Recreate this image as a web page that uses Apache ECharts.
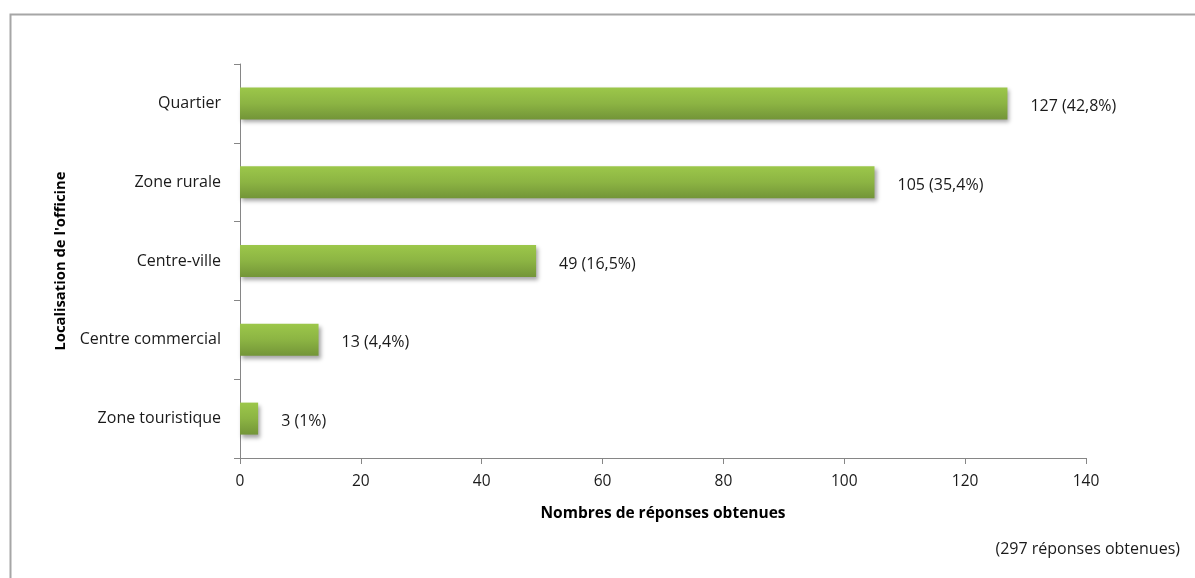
<!DOCTYPE html>
<html>
<head>
<meta charset="utf-8">
<script src="https://cdn.jsdelivr.net/npm/echarts@6/dist/echarts.min.js"></script>
<style>html,body{margin:0;padding:0;background:#fff;}#c{width:1195px;height:578px;}</style>
</head>
<body>
<div id="c"></div>
<script>
var categories = ['Quartier', 'Zone rurale', 'Centre-ville', 'Centre commercial', 'Zone touristique'];
var counts = [127, 105, 49, 13, 3];
var percents = ['42,8%', '35,4%', '16,5%', '4,4%', '1%'];
var xTicks = [0, 20, 40, 60, 80, 100, 120, 140];

var font = 'Open Sans';
var chart = echarts.init(document.getElementById('c'));
chart.setOption({
  backgroundColor: '#fff',
  animation: false,
  grid: { left: 240, right: 109, top: 64, bottom: 120 },
  xAxis: {
    type: 'value', min: xTicks[0], max: xTicks[xTicks.length - 1], interval: 20,
    name: 'Nombres de réponses obtenues', nameLocation: 'middle', nameGap: 48,
    nameTextStyle: { fontFamily: font, fontWeight: 'bold', fontSize: 15.5, color: '#000' },
    axisLine: { show: true, lineStyle: { color: '#868686', width: 1 } },
    axisTick: { show: true, length: 6, lineStyle: { color: '#868686' } },
    axisLabel: { fontFamily: font, fontSize: 15.5, color: '#1a1a1a', margin: 16 },
    splitLine: { show: false }
  },
  yAxis: {
    type: 'category', data: categories, inverse: true,
    name: "Localisation de l'officine", nameLocation: 'middle', nameGap: 170, nameRotate: 90,
    nameTextStyle: { fontFamily: font, fontWeight: 'bold', fontSize: 14.8, color: '#000' },
    axisLine: { show: true, lineStyle: { color: '#868686', width: 1 } },
    axisTick: { show: true, length: 6, alignWithLabel: false, lineStyle: { color: '#868686' } },
    axisLabel: { fontFamily: font, fontSize: 16, color: '#1a1a1a', margin: 19, padding: [5, 0, 0, 0] }
  },
  series: [{
    type: 'bar', data: counts, barWidth: 32,
    itemStyle: {
      color: new echarts.graphic.LinearGradient(0, 0, 0, 1, [
        { offset: 0, color: '#9cc74a' },
        { offset: 0.5, color: '#8cb443' },
        { offset: 1, color: '#739538' }
      ]),
      shadowColor: 'rgba(0,0,0,0.35)', shadowBlur: 4, shadowOffsetX: 2, shadowOffsetY: 3
    },
    label: {
      show: true, position: 'right', distance: 22, offset: [1, 3],
      fontFamily: font, fontSize: 16, color: '#1a1a1a',
      formatter: function (p) { return counts[p.dataIndex] + ' (' + percents[p.dataIndex] + ')'; }
    }
  }],
  graphic: [
    { type: 'rect', left: 8, top: 12, shape: { width: 1200, height: 600 }, silent: true,
      style: { fill: 'none', stroke: '#a6a6a6', lineWidth: 2 } },
    { type: 'text', right: 15, top: 541, silent: true,
      style: { text: '(297 réponses obtenues)', fontFamily: font, fontSize: 16, fill: '#1a1a1a' } }
  ]
});
</script>
</body>
</html>
